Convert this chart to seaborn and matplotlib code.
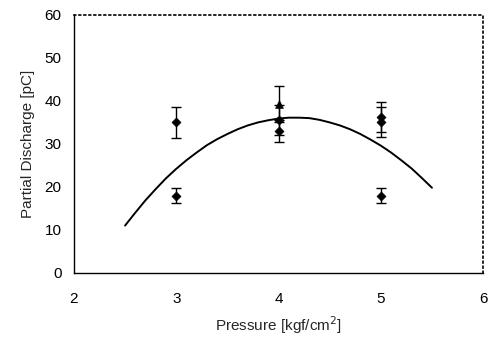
import numpy as np
import pandas as pd
import seaborn as sns
import matplotlib.pyplot as plt

# Measured points (pressure, discharge, error half-width, marker)
pressure = [3, 3, 4, 4, 4, 5, 5, 5]
discharge = [35.0, 18.0, 39.3, 35.5, 33.0, 36.3, 35.1, 18.0]
error = [3.6, 1.8, 4.2, 3.5, 2.5, 3.5, 3.5, 1.7]
marker = ['D', 'D', '^', 'D', 'D', 'D', 'D', 'D']

# Fitted curve
curve_x = [2.5, 2.6, 2.7, 2.8, 2.9, 3.0, 3.1, 3.2, 3.3, 3.4, 3.5, 3.6, 3.7, 3.8,
           3.9, 4.0, 4.1, 4.2, 4.3, 4.4, 4.5, 4.6, 4.7, 4.8, 4.9, 5.0, 5.1,
           5.2, 5.3, 5.4, 5.5]
curve_y = [11.0, 14.0, 16.9, 19.5, 22.0, 24.2, 26.2, 28.0, 29.7, 31.1, 32.3,
           33.4, 34.3, 35.0, 35.5, 35.9, 36.1, 36.1, 36.0, 35.6, 35.0, 34.3,
           33.4, 32.3, 31.0, 29.6, 28.0, 26.2, 24.3, 22.1, 19.8]

sns.set_style('white')
plt.rcParams['font.family'] = ['Liberation Sans', 'DejaVu Sans']

fig = plt.figure(figsize=(4.96, 3.39), dpi=100)
ax = fig.add_axes([0.149, 0.195, 0.825, 0.761])

curve = pd.DataFrame({'x': curve_x, 'y': curve_y})
sns.lineplot(data=curve, x='x', y='y', color='black', linewidth=1.4, ax=ax)

ax.errorbar(pressure, discharge, yerr=error, fmt='none', ecolor='black',
            elinewidth=1.0, capsize=3.5, capthick=1.0)
pts = pd.DataFrame({'x': pressure, 'y': discharge, 'm': marker})
for m, grp in pts.groupby('m'):
    sns.scatterplot(data=grp, x='x', y='y', marker=m, color='black',
                    s=22 if m == 'D' else 32, edgecolor='black', ax=ax, zorder=3)

ax.set_xlim(2, 6)
ax.set_ylim(0, 60)
ax.set_xticks([2, 3, 4, 5, 6])
ax.set_yticks(range(0, 61, 10))
ax.tick_params(direction='in', length=4, width=0.8, labelsize=11, colors='black')
ax.tick_params(axis='y', pad=9)
ax.tick_params(axis='x', pad=14)

for s in ['left', 'bottom']:
    ax.spines[s].set_color('black')
    ax.spines[s].set_linewidth(1.0)
for s in ['top', 'right']:
    ax.spines[s].set_color('black')
    ax.spines[s].set_linewidth(1.2)
    ax.spines[s].set_linestyle((0, (1, 2)))

ax.set_xlabel('Pressure [kgf/cm$^2$]', fontsize=11, labelpad=6)
ax.set_ylabel('Partial Discharge [pC]', fontsize=11, labelpad=7)

fig.savefig('out.png', dpi=100)
